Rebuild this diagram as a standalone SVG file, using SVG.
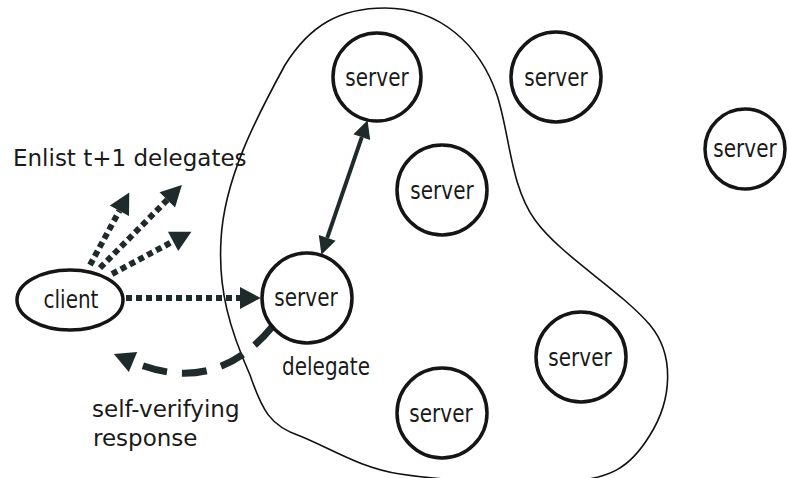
<svg xmlns="http://www.w3.org/2000/svg" width="789" height="478" viewBox="0 0 789 478">
<style>
.node{fill:#fff;stroke:#151515;stroke-width:3.5}
.lbl{font-family:"DejaVu Sans",sans-serif;font-size:20px;fill:#1a1a1a;text-anchor:middle}
.txt{font-family:"DejaVu Sans",sans-serif;font-size:23px;fill:#1a1a1a}
.dot{fill:none;stroke:#1f2a2a;stroke-width:6;stroke-dasharray:6 4}
.dash{fill:none;stroke:#1f2a2a;stroke-width:7;stroke-dasharray:25 15}
.solid{fill:none;stroke:#1f2a2a;stroke-width:4}
.blob{fill:none;stroke:#111;stroke-width:1.6}
</style>
<defs>
<marker id="big" markerUnits="userSpaceOnUse" markerWidth="24" markerHeight="24" viewBox="0 -11 20 22" refX="0" refY="0" orient="auto"><path d="M0,-10 L19,0 L0,10 z" fill="#1f2a2a"/></marker>
<marker id="small" markerUnits="userSpaceOnUse" markerWidth="20" markerHeight="20" viewBox="0 -9 17 18" refX="0" refY="0" orient="auto-start-reverse"><path d="M0,-8 L16,0 L0,8 z" fill="#1f2a2a"/></marker>
</defs>
<rect width="789" height="478" fill="#fff"/>
<path class="blob" d="M385 8 C440 8,480 45,497 95 C510 135,510 185,535 220 C560 255,620 290,650 325 C675 355,672 400,650 435 C630 468,610 480,560 482 C500 484,440 480,400 474 C360 468,330 448,300 436 C270 426,262 410,250 375 C230 330,218 290,221 240 C224 180,255 120,285 65 C310 25,340 8,385 8 Z"/>
<g id="connectors">
<line class="dot" x1="90" y1="265" x2="119.4" y2="210.8" marker-end="url(#big)"/>
<line class="dot" x1="100" y1="268" x2="167.3" y2="199.8" marker-end="url(#big)"/>
<line class="dot" x1="112" y1="274" x2="173.1" y2="241.4" marker-end="url(#big)"/>
<line class="dot" x1="126" y1="298" x2="240" y2="298" marker-end="url(#big)"/>
<line class="solid" x1="327.2" y1="237.9" x2="361.8" y2="137.1" marker-start="url(#small)" marker-end="url(#small)"/>
<path class="dash" d="M272 327 Q215 396 133 362" marker-end="url(#big)"/>
</g>
<g id="client"><ellipse class="node" cx="70" cy="300" rx="53" ry="30"/><text class="lbl" transform="matrix(1,0,0,1.2,71,308)">client</text></g>
<g id="server-top"><circle class="node" cx="377" cy="77" r="44"/><text class="lbl" transform="matrix(1,0,0,1.2,377,86)">server</text></g>
<g id="server-topright"><circle class="node" cx="556" cy="77" r="45"/><text class="lbl" transform="matrix(1,0,0,1.2,556,86)">server</text></g>
<g id="server-mid"><circle class="node" cx="442" cy="190" r="45"/><text class="lbl" transform="matrix(1,0,0,1.2,442,199)">server</text></g>
<g id="server-delegate"><circle class="node" cx="307" cy="298" r="45"/><text class="lbl" transform="matrix(1,0,0,1.2,306,306)">server</text></g>
<g id="server-lowright"><circle class="node" cx="581" cy="357" r="45"/><text class="lbl" transform="matrix(1,0,0,1.2,580,366)">server</text></g>
<g id="server-bottom"><circle class="node" cx="442" cy="413" r="45"/><text class="lbl" transform="matrix(1,0,0,1.2,441,422)">server</text></g>
<g id="server-far"><circle class="node" cx="745" cy="149" r="40"/><text class="lbl" transform="matrix(1,0,0,1.2,745,157)">server</text></g>
<text class="txt" x="13" y="166">Enlist t+1 delegates</text>
<text class="lbl" transform="matrix(1,0,0,1.2,326,375)">delegate</text>
<text class="txt" x="92" y="417">self-verifying</text>
<text class="txt" x="93" y="446">response</text>
</svg>
